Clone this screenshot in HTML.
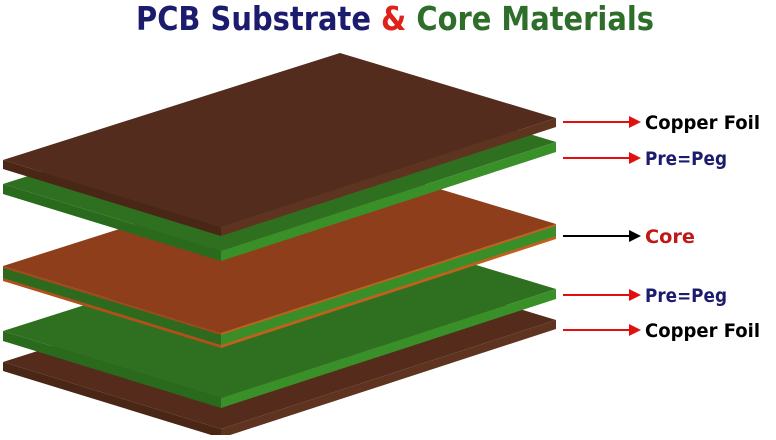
<!DOCTYPE html>
<html><head><style>
body{margin:0;background:#fff;width:776px;height:435px;overflow:hidden;font-family:"Liberation Sans",sans-serif}
</style></head><body>
<svg width="776" height="435" viewBox="0 0 776 435" xmlns="http://www.w3.org/2000/svg">
<defs>
<marker id="ar" markerWidth="6" markerHeight="6" refX="5" refY="3" orient="auto"><path d="M0,0 L6,3 L0,6z" fill="#e01010"/></marker>
<marker id="ak" markerWidth="6" markerHeight="6" refX="5" refY="3" orient="auto"><path d="M0,0 L6,3 L0,6z" fill="#000"/></marker>
</defs>
<text x="395" y="30" text-anchor="middle" font-size="33" font-weight="bold" font-family="DejaVu Sans,sans-serif" textLength="518" lengthAdjust="spacingAndGlyphs"><tspan fill="#1c1c6e">PCB Substrate </tspan><tspan fill="#e0201a">&amp; </tspan><tspan fill="#2e6e2a">Core Materials</tspan></text>

<g transform="translate(0,202)">
<polygon points="3,160 340,53 556,118 221,227" fill="#552c1c"/>
<polygon points="3,160 221,227 221,236 3,169" fill="#4a2617"/>
<polygon points="221,227 556,118 556,127 221,236" fill="#5e3320"/>
</g>
<g transform="translate(0,171)">
<polygon points="3,160 340,53 556,118 221,227" fill="#2e7020"/>
<polygon points="3,160 221,227 221,237 3,170" fill="#2a6a1c"/>
<polygon points="221,227 556,118 556,128 221,237" fill="#3a9028"/>
</g>
<g transform="translate(0,106)">
<polygon points="3,160 340,53 556,118 221,227" fill="#8f3e1c"/>
<polygon points="3,160 221,227 221,241 3,174" fill="#2e6a1e"/>
<polygon points="221,227 556,118 556,132 221,241" fill="#3a8e28"/>
<polygon points="3,172 221,239 221,242 3,175" fill="#b0501c"/>
<polygon points="221,239 556,130 556,133 221,242" fill="#c0601e"/>
<polygon points="3,160 221,227 221,229 3,162" fill="#a04a1c"/>
<polygon points="221,227 556,118 556,120 221,229" fill="#c0601e"/>
</g>
<g transform="translate(0,24)">
<polygon points="3,160 340,53 556,118 221,227" fill="#2e7020"/>
<polygon points="3,160 221,227 221,237 3,170" fill="#2a6a1c"/>
<polygon points="221,227 556,118 556,128 221,237" fill="#3a9028"/>
</g>
<g>
<polygon points="3,160 340,53 556,118 221,227" fill="#532c1d"/>
<polygon points="3,160 221,227 221,236 3,169" fill="#4a2617"/>
<polygon points="221,227 556,118 556,127 221,236" fill="#5e3320"/>
</g>

<g stroke-width="2">
<line x1="563" y1="122" x2="639" y2="122" stroke="#e01010" marker-end="url(#ar)"/>
<line x1="563" y1="158" x2="639" y2="158" stroke="#e01010" marker-end="url(#ar)"/>
<line x1="563" y1="236" x2="639" y2="236" stroke="#000" marker-end="url(#ak)"/>
<line x1="563" y1="295" x2="639" y2="295" stroke="#e01010" marker-end="url(#ar)"/>
<line x1="563" y1="330" x2="639" y2="330" stroke="#e01010" marker-end="url(#ar)"/>
</g>
<g font-size="19" font-weight="bold" font-family="DejaVu Sans,sans-serif">
<text x="645" y="129" fill="#000" textLength="115" lengthAdjust="spacingAndGlyphs">Copper Foil</text>
<text x="645" y="165" fill="#1c1c6e" textLength="82" lengthAdjust="spacingAndGlyphs">Pre=Peg</text>
<text x="645" y="243" fill="#c01818" textLength="50" lengthAdjust="spacingAndGlyphs">Core</text>
<text x="645" y="302" fill="#1c1c6e" textLength="82" lengthAdjust="spacingAndGlyphs">Pre=Peg</text>
<text x="645" y="337" fill="#000" textLength="115" lengthAdjust="spacingAndGlyphs">Copper Foil</text>
</g>
</svg>
</body></html>
